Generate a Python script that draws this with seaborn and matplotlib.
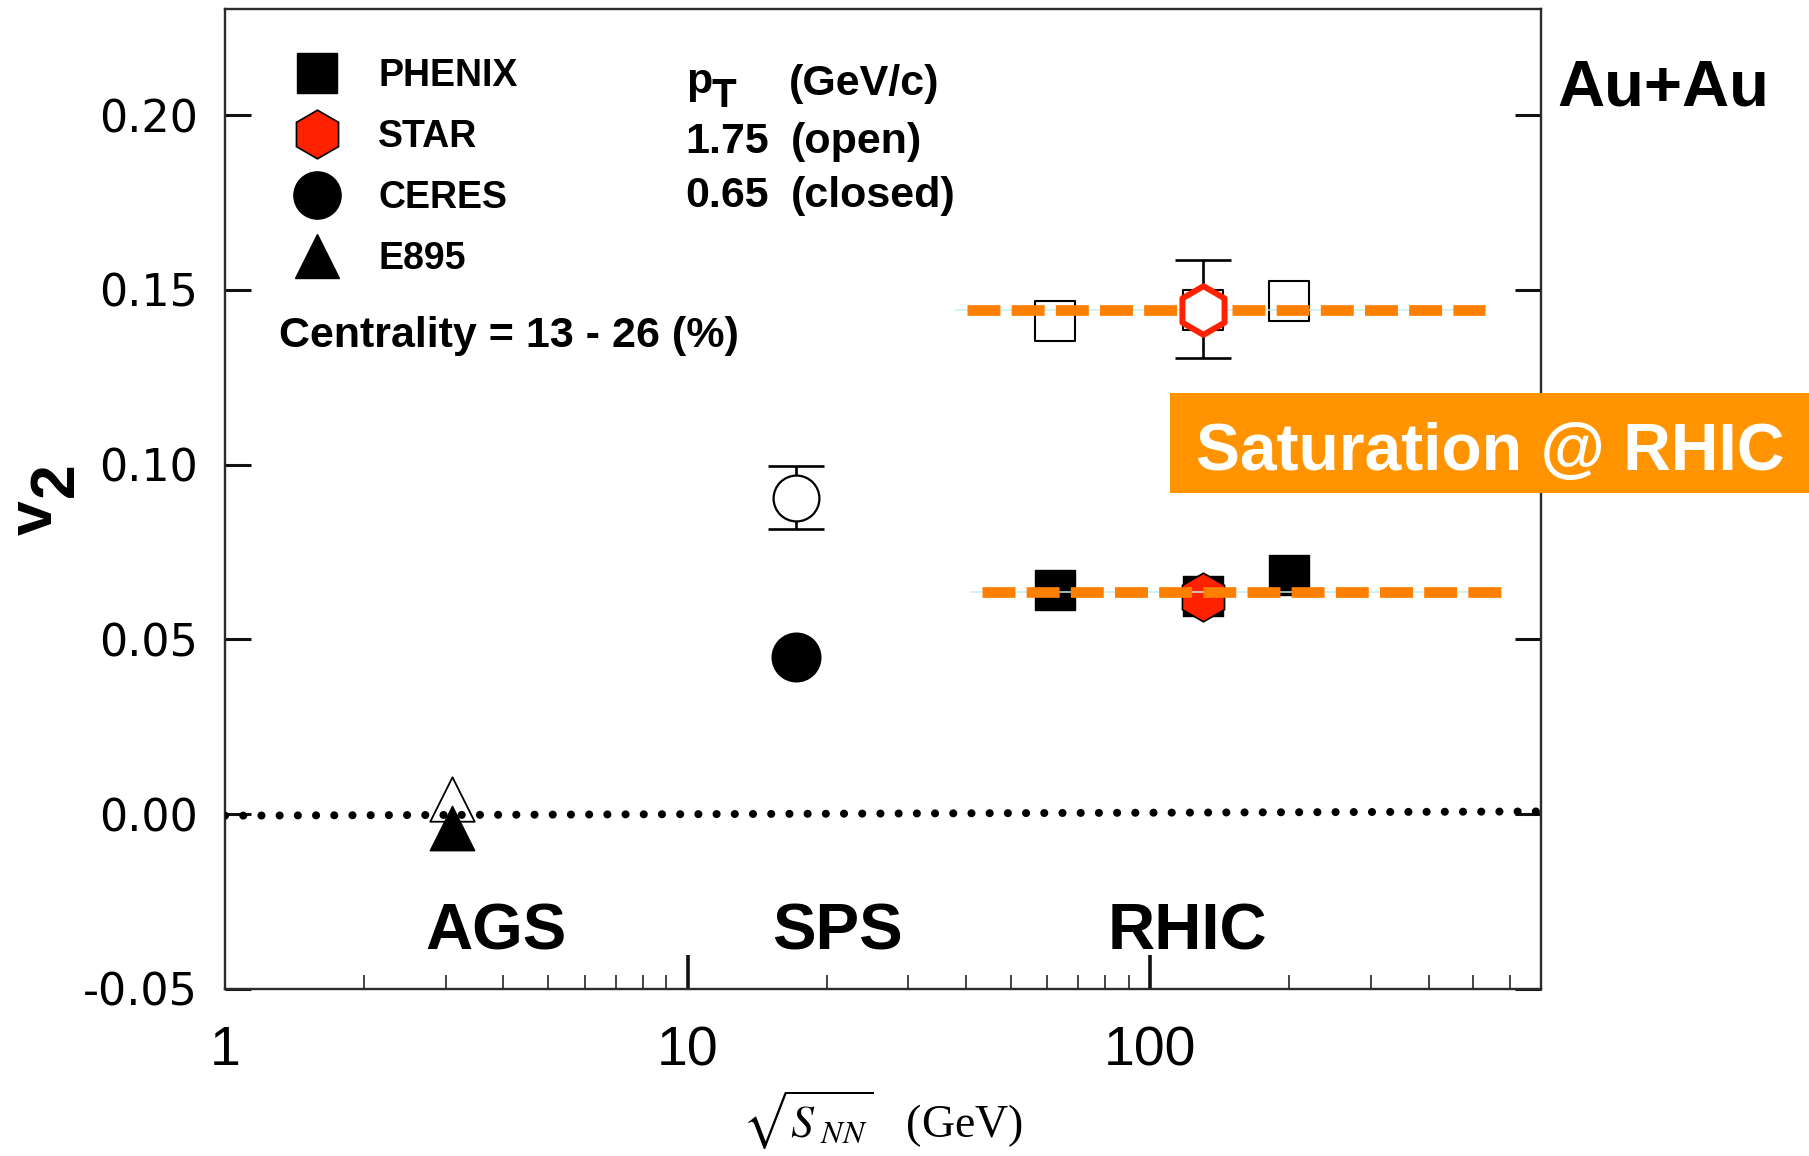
import matplotlib
matplotlib.use("Agg")
import matplotlib.pyplot as plt
import seaborn as sns
import pandas as pd
from matplotlib import font_manager
from matplotlib.lines import Line2D
from matplotlib.patches import Rectangle
from matplotlib.transforms import blended_transform_factory
from matplotlib.ticker import FixedLocator, FixedFormatter, LogLocator, NullFormatter

# ---------------- data: v2 vs sqrt(s_NN), Au+Au, centrality 13-26 % ----------------
# open symbols: pT = 1.75 GeV/c, closed symbols: pT = 0.65 GeV/c
phenix_energy = [62.4, 130.0, 200.0]
phenix_v2_open = [0.1410, 0.1444, 0.1469]
phenix_v2_closed = [0.0641, 0.0625, 0.0684]

star_energy = [130.0]
star_v2_open = [0.1444]
star_open_err_low = [0.0139]
star_open_err_high = [0.0142]
star_v2_closed = [0.0623]

ceres_energy = [17.2]
ceres_v2_open = [0.0904]
ceres_open_err_low = [0.0088]
ceres_open_err_high = [0.0093]
ceres_v2_closed = [0.0449]

e895_energy = [3.1]
e895_v2_open = [0.0044]
e895_v2_closed = [-0.0039]

# saturation levels at RHIC energies and their energy span
saturation_levels = [0.1442, 0.0637]
saturation_start = [40.2, 43.3]
saturation_stop = [529.0, 576.0]
fit_start = [37.9, 41.1]

# v2 = 0 reference
zero_line_energy = [1.0, 700.0]
zero_line_v2 = [-0.0004, 0.0008]

y_ticks = [-0.05, 0.00, 0.05, 0.10, 0.15, 0.20]
y_tick_labels = ["-0.05", "0.00", "0.05", "0.10", "0.15", "0.20"]
x_ticks = [1, 10, 100]
x_tick_labels = ["1", "10", "100"]

accelerators = ["AGS", "SPS", "RHIC"]
accelerator_energy = [3.85, 21.1, 120.7]

legend_names = ["PHENIX", "STAR", "CERES", "E895"]

# ---------------- style ----------------
sns.set_theme(style="ticks")
plt.rcParams["font.family"] = ["Liberation Sans", "DejaVu Sans"]
plt.rcParams["mathtext.fontset"] = "stix"
plt.rcParams["axes.unicode_minus"] = False
for key in ["text.color", "axes.labelcolor", "xtick.color", "ytick.color"]:
    plt.rcParams[key] = "black"

installed = {f.name for f in font_manager.fontManager.ttflist}
narrow = "Liberation Sans Narrow" if "Liberation Sans Narrow" in installed else "Liberation Sans"

ORANGE = "#ff7f00"
BOX = "#ff9400"
STAR_RED = "#ff2200"
FIT = "#c9ecec"
W, H = 1809, 1156

fig = plt.figure(figsize=(W / 100, H / 100), dpi=100)
ax = fig.add_axes([225 / W, 1 - 989 / H, (1541 - 225) / W, (989 - 9) / H])

ax.set_xscale("log")
ax.set_xlim(1, 700)
ax.set_ylim(-0.05, 0.2304)

# ---------------- reference lines ----------------
ax.plot(zero_line_energy, zero_line_v2, color="black", lw=5.8,
        linestyle=(0, (0.01, 2.25)), dash_capstyle="round", zorder=5)

for lvl, x0, x1, xf in zip(saturation_levels, saturation_start, saturation_stop, fit_start):
    ax.plot([xf, x1], [lvl, lvl], color=FIT, lw=1.1, zorder=4.8)
    ax.plot([x0, x1], [lvl, lvl], color=ORANGE, lw=7.7,
            linestyle=(0, (3.08, 1.05)), dash_capstyle="butt", zorder=5)

# ---------------- error bars ----------------
ax.errorbar(star_energy, star_v2_open, yerr=[star_open_err_low, star_open_err_high],
            fmt="none", ecolor="black", elinewidth=1.9, capsize=20, capthick=1.9, zorder=3)
ax.errorbar(ceres_energy, ceres_v2_open, yerr=[ceres_open_err_low, ceres_open_err_high],
            fmt="none", ecolor="black", elinewidth=1.9, capsize=20, capthick=1.9, zorder=3)

# ---------------- markers ----------------
def points(x, y, marker, size, face, edge, lw, z):
    df = pd.DataFrame({"energy": x, "v2": y})
    sns.scatterplot(data=df, x="energy", y="v2", marker=marker, s=size ** 2,
                    color=face, edgecolor=edge, linewidth=lw, zorder=z,
                    legend=False, ax=ax, clip_on=False)

# PHENIX
points(phenix_energy, phenix_v2_open, "s", 29, "white", "black", 1.5, 4)
points(phenix_energy, phenix_v2_closed, "s", 29, "black", "black", 1.0, 4)
# STAR
points(star_energy, star_v2_open, "h", 35, "white", STAR_RED, 4.3, 6)
points(star_energy, star_v2_closed, "h", 35, STAR_RED, "black", 1.2, 4.5)
# CERES
points(ceres_energy, ceres_v2_open, "o", 33, "white", "black", 1.6, 4)
points(ceres_energy, ceres_v2_closed, "o", 35, "black", "black", 1.0, 4)
# E895
points(e895_energy, e895_v2_open, "^", 32, "white", "black", 1.3, 4)
points(e895_energy, e895_v2_closed, "^", 32, "black", "black", 1.0, 4)

# ---------------- axes ----------------
for side in ["left", "right", "top", "bottom"]:
    ax.spines[side].set_visible(True)
    ax.spines[side].set_color("#2b2b2b")
    ax.spines[side].set_linewidth(1.7)

ax.yaxis.set_major_locator(FixedLocator(y_ticks))
ax.yaxis.set_major_formatter(FixedFormatter(y_tick_labels))
ax.xaxis.set_major_locator(FixedLocator(x_ticks))
ax.xaxis.set_major_formatter(FixedFormatter(x_tick_labels))
ax.xaxis.set_minor_locator(LogLocator(base=10, subs=range(2, 10), numticks=20))
ax.xaxis.set_minor_formatter(NullFormatter())

ax.tick_params(axis="y", which="major", direction="in", left=True, right=True,
               length=18.7, width=2.2, pad=19.4, labelsize=32, color="#111111",
               labelcolor="black")
ax.tick_params(axis="x", which="major", direction="in", bottom=True, top=False,
               length=24.5, width=2.6, pad=26, labelsize=40, color="#111111",
               labelcolor="black")
ax.tick_params(axis="x", which="minor", direction="in", bottom=True, top=False,
               length=10, width=1.1, color="#111111")
# the tick at 1 would sit on the left spine
ax.xaxis.get_major_ticks()[0].tick1line.set_visible(False)
for lbl in ax.get_yticklabels():
    lbl.set_fontfamily("DejaVu Sans")
for lbl in ax.get_xticklabels():
    lbl.set_fontfamily(narrow)

ax.set_xlabel(r"$\sqrt{S_{\ NN}}$   (GeV)", fontsize=33, family="Liberation Serif",
              labelpad=8, color="black")
ax.set_ylabel("")

# y axis title: v with a lowered 2
fig.text(52 / W, 1 - 518 / H, "v", rotation=90, rotation_mode="anchor",
         ha="center", va="baseline", fontsize=45, fontweight="bold")
fig.text(73 / W, 1 - 480 / H, "2", rotation=90, rotation_mode="anchor",
         ha="center", va="baseline", fontsize=45, fontweight="bold")

# ---------------- legend ----------------
handles = [
    Line2D([], [], marker="s", linestyle="none", markersize=29, markerfacecolor="black",
           markeredgecolor="black"),
    Line2D([], [], marker="h", linestyle="none", markersize=35, markerfacecolor=STAR_RED,
           markeredgecolor="black", markeredgewidth=1.2),
    Line2D([], [], marker="o", linestyle="none", markersize=34, markerfacecolor="black",
           markeredgecolor="black"),
    Line2D([], [], marker="^", linestyle="none", markersize=32, markerfacecolor="black",
           markeredgecolor="black"),
]
leg = ax.legend(handles, legend_names, loc="upper left",
                bbox_to_anchor=((294 - 225) / (1541 - 225), (989 - 58) / (989 - 9)),
                frameon=False, borderpad=0, borderaxespad=0, handlelength=1.2,
                handletextpad=1.05, labelspacing=0.67,
                prop={"family": "Liberation Sans", "weight": "bold", "size": 27})
for t in leg.get_texts():
    t.set_color("black")

# ---------------- annotations ----------------
def ftext(x, y, s, **kw):
    fig.text(x / W, 1 - y / H, s, va="baseline", ha="left", **kw)

ftext(686, 93, "p", fontsize=31, fontweight="bold")
ftext(711, 107, "T", fontsize=29, fontweight="bold")
ftext(789, 95, "(GeV/c)", fontsize=31, fontweight="bold")
ftext(685, 153, "1.75", fontsize=31, fontweight="bold")
ftext(791, 153, "(open)", fontsize=31, fontweight="bold")
ftext(685, 207, "0.65", fontsize=31, fontweight="bold")
ftext(791, 207, "(closed)", fontsize=31, fontweight="bold")
ftext(279, 347, "Centrality = 13 - 26 (%)", fontsize=31, fontweight="bold")

ftext(1557, 105, "Au+Au", fontsize=47, fontweight="bold")

trans = blended_transform_factory(ax.transData, ax.transAxes)
for name, e in zip(accelerators, accelerator_energy):
    ax.text(e, (989 - 950) / (989 - 9), name, transform=trans, ha="center",
            va="baseline", fontsize=47, fontweight="bold", zorder=8)

fig.patches.append(Rectangle((1170 / W, 1 - 493 / H), 1 - 1170 / W, 100 / H,
                             transform=fig.transFigure, facecolor=BOX,
                             edgecolor="none", zorder=10))
fig.text(1196 / W, 1 - 470 / H, "Saturation @ RHIC", color="white", fontsize=47.5,
         fontweight="bold", va="baseline", ha="left", zorder=11)

fig.savefig("out.png", dpi=100)
